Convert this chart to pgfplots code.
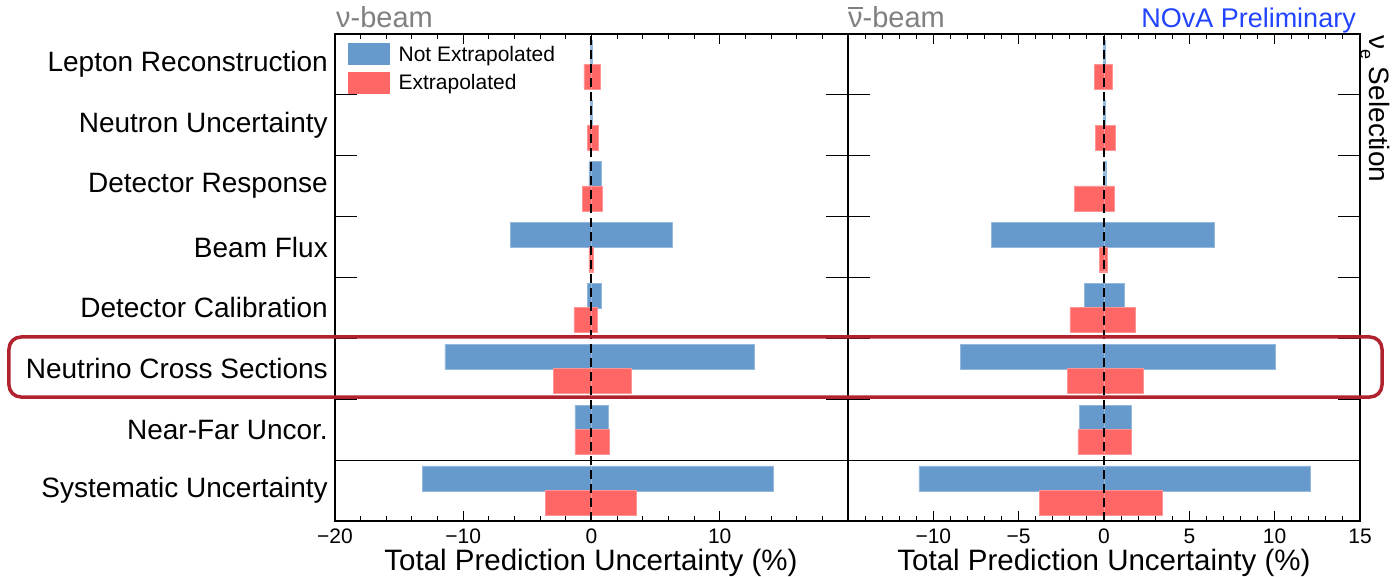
\documentclass[border=0pt]{standalone}
\usepackage{pgfplots}
\pgfplotsset{compat=1.18}
\usepackage{pgfplotstable}
\usepackage{fontspec}
\setmainfont{Liberation Sans}

\definecolor{nexblue}{HTML}{6699CC}
\definecolor{exred}{HTML}{FF6666}
\definecolor{boxred}{HTML}{B0232E}
\definecolor{beamgray}{HTML}{808080}
\definecolor{novablue}{HTML}{2244FF}

% row: 7 = Lepton Reconstruction ... 0 = Systematic Uncertainty
% nlo/nhi: not extrapolated range, elo/ehi: extrapolated range (%)
\pgfplotstableread{
row nlo nhi elo ehi
7 -0.08 0.08 -0.60 0.70
6 -0.08 0.08 -0.35 0.55
5 -0.20 0.73 -0.70 0.80
4 -6.34 6.30 -0.20 0.15
3 -0.35 0.73 -1.37 0.46
2 -11.43 12.67 -2.95 3.07
1 -1.29 1.27 -1.29 1.40
0 -13.20 14.20 -3.60 3.50
}\nubeam

\pgfplotstableread{
row nlo nhi elo ehi
7 -0.05 0.05 -0.56 0.48
6 -0.05 0.05 -0.50 0.68
5 -0.05 0.10 -1.75 0.58
4 -6.62 6.45 -0.28 0.21
3 -1.17 1.20 -2.00 1.81
2 -8.40 10.04 -2.14 2.29
1 -1.45 1.60 -1.53 1.60
0 -10.85 12.10 -3.80 3.41
}\antinubeam

\tikzset{zeroline/.style={black, line width=2pt, dash pattern=on 9pt off 5pt}}

\pgfplotsset{
  panel/.style={
    scale only axis, height=487pt,
    ymin=-0.5, ymax=7.5,
    axis line style={line width=1.8pt},
    tick style={black, line width=1pt},
    major tick length=10pt, minor tick length=5pt,
    ytick style={draw=none},
    xticklabel style={font=\fontsize{21}{24}\selectfont, inner sep=0pt, yshift=-8pt},
    clip=false,
  },
  nexbar/.style={xbar, bar width=0.41, bar shift=0pt, fill=nexblue, draw=nexblue!70!white, line width=0.4pt, forget plot},
  exbar/.style={xbar, bar width=0.41, bar shift=0pt, fill=exred, draw=exred!70!white, line width=0.4pt, forget plot},
}

\begin{document}
\begin{tikzpicture}
\useasboundingbox (-335pt,-55pt) rectangle (1063pt,521pt);

\begin{axis}[panel, name=left, width=513pt,
  xmin=-20, xmax=20,
  xtick={-20,-10,0,10,20}, xticklabels={−20,−10,0,10,{}},
  minor x tick num=4,
  ytick={0,...,7},
  yticklabels={Systematic Uncertainty, Near-Far Uncor., Neutrino Cross Sections, Detector Calibration, Beam Flux, Detector Response, Neutron Uncertainty, Lepton Reconstruction},
  yticklabel style={font=\fontsize{28}{33}\selectfont, inner sep=0pt, xshift=-7pt},
  legend style={at={(0,1)}, anchor=north west, xshift=13pt, yshift=-9pt,
    draw=none, fill=none, inner sep=0pt, row sep=7pt, column sep=9pt,
    font=\fontsize{21}{25}\selectfont,
    nodes={inner sep=0pt}},
  legend cell align=left,
]
\addplot[nexbar] table[x=nlo, y expr=\thisrow{row}+0.2] {\nubeam};
\addplot[nexbar] table[x=nhi, y expr=\thisrow{row}+0.2] {\nubeam};
\addplot[exbar] table[x=elo, y expr=\thisrow{row}-0.2] {\nubeam};
\addplot[exbar] table[x=ehi, y expr=\thisrow{row}-0.2] {\nubeam};
\addlegendimage{legend image code/.code={\fill[nexblue] (0pt,-10pt) rectangle (41pt,11pt);}}
\addlegendentry{Not Extrapolated}
\addlegendimage{legend image code/.code={\fill[exred] (0pt,-10pt) rectangle (41pt,11pt);}}
\addlegendentry{Extrapolated}
\draw[line width=1.2pt] (axis cs:-20,0.5) -- (axis cs:20,0.5);
\draw[zeroline] (axis cs:0,-0.5) -- (axis cs:0,7.5);
\end{axis}

\begin{axis}[panel, name=right, at={(513pt,0pt)}, anchor=south west, width=512pt,
  xmin=-15, xmax=15,
  xtick={-15,-10,-5,0,5,10,15}, xticklabels={{},−10,−5,0,5,10,15},
  minor x tick num=4,
  ytick=\empty,
]
\addplot[nexbar] table[x=nlo, y expr=\thisrow{row}+0.2] {\antinubeam};
\addplot[nexbar] table[x=nhi, y expr=\thisrow{row}+0.2] {\antinubeam};
\addplot[exbar] table[x=elo, y expr=\thisrow{row}-0.2] {\antinubeam};
\addplot[exbar] table[x=ehi, y expr=\thisrow{row}-0.2] {\antinubeam};
\draw[line width=1.2pt] (axis cs:-15,0.5) -- (axis cs:15,0.5);
\draw[zeroline] (axis cs:0,-0.5) -- (axis cs:0,7.5);
\end{axis}

% row boundary ticks on the vertical frame lines
\foreach \k in {2,...,7} {
  \draw[line width=1pt] (0pt,{\k*60.875pt}) -- ++(22pt,0pt);
  \draw[line width=1pt] (513pt,{\k*60.875pt}) -- ++(-22pt,0pt);
  \draw[line width=1pt] (513pt,{\k*60.875pt}) -- ++(22pt,0pt);
  \draw[line width=1pt] (1025pt,{\k*60.875pt}) -- ++(-22pt,0pt);
}

% panel titles
\node[anchor=base west, text=beamgray, font=\fontsize{29}{34}\selectfont, inner sep=0pt] at (1pt,493pt) {ν-beam};
\node[anchor=base west, text=beamgray, font=\fontsize{29}{34}\selectfont, inner sep=0pt] at (513pt,493pt)
  {\makebox[0pt][l]{\raisebox{0.66em}{\rule{0.5em}{0.07em}}}ν-beam};
\node[anchor=base east, text=novablue, font=\fontsize{27}{32}\selectfont, inner sep=0pt] at (1021pt,493pt) {NOvA Preliminary};
\node[anchor=base west, rotate=-90, font=\fontsize{28}{32}\selectfont, inner sep=0pt] at (1034pt,486pt)
  {ν\raisebox{-0.3em}{\fontsize{18}{21}\selectfont e} Selection};

% axis titles
\node[anchor=base, font=\fontsize{29.5}{35}\selectfont, inner sep=0pt] at (256pt,-49pt) {Total Prediction Uncertainty (\%)};
\node[anchor=base, font=\fontsize{29.5}{35}\selectfont, inner sep=0pt] at (769pt,-49pt) {Total Prediction Uncertainty (\%)};

% highlight around the cross-section row
\draw[boxred, line width=3.5pt, rounded corners=12pt] (-326pt,124pt) rectangle (1047pt,184pt);
\end{tikzpicture}
\end{document}
